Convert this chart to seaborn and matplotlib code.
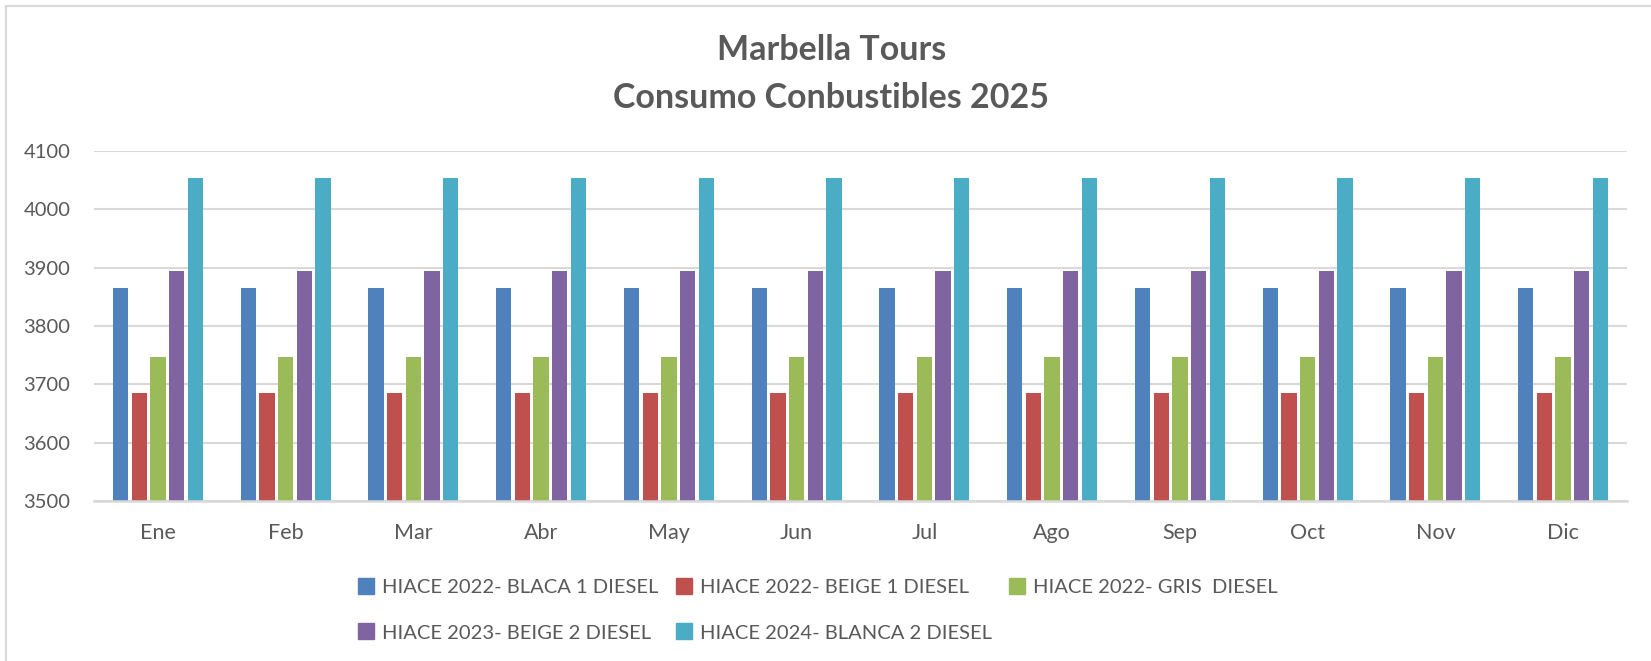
import matplotlib
matplotlib.use("Agg")
import matplotlib.pyplot as plt
import seaborn as sns
import pandas as pd
from matplotlib.lines import Line2D

months = ["Ene", "Feb", "Mar", "Abr", "May", "Jun", "Jul", "Ago", "Sep", "Oct", "Nov", "Dic"]
series_names = [
    "HIACE 2022- BLACA 1 DIESEL",
    "HIACE 2022- BEIGE 1 DIESEL",
    "HIACE 2022- GRIS  DIESEL",
    "HIACE 2023- BEIGE 2 DIESEL",
    "HIACE 2024- BLANCA 2 DIESEL",
]
blaca1 = [3866, 3866, 3866, 3866, 3866, 3866, 3866, 3866, 3866, 3866, 3866, 3866]
beige1 = [3685, 3685, 3685, 3685, 3685, 3685, 3685, 3685, 3685, 3685, 3685, 3685]
gris = [3747, 3747, 3747, 3747, 3747, 3747, 3747, 3747, 3747, 3747, 3747, 3747]
beige2 = [3894, 3894, 3894, 3894, 3894, 3894, 3894, 3894, 3894, 3894, 3894, 3894]
blanca2 = [4053, 4053, 4053, 4053, 4053, 4053, 4053, 4053, 4053, 4053, 4053, 4053]
colors = ["#4F81BD", "#C0504D", "#9BBB59", "#8064A2", "#4BACC6"]
yticks = [3500, 3600, 3700, 3800, 3900, 4000, 4100]
title_lines = ["Marbella Tours", "Consumo Conbustibles 2025"]

rows = []
for name, vals in zip(series_names, [blaca1, beige1, gris, beige2, blanca2]):
    for m, v in zip(months, vals):
        rows.append({"Mes": m, "Serie": name, "Valor": v})
df = pd.DataFrame(rows)

sns.set_style("white")
plt.rcParams["font.family"] = ["Lato", "DejaVu Sans"]
txt = "#595959"

W, H = 1651, 661
fig = plt.figure(figsize=(W / 100, H / 100), dpi=100)
ax = fig.add_axes([94 / W, 1 - 501 / H, (1627 - 94) / W, (501 - 151) / H])

sns.barplot(data=df, x="Mes", y="Valor", hue="Serie", order=months,
            hue_order=series_names, palette=colors, width=0.73,
            ax=ax, legend=False, saturation=1)

for p in ax.patches:
    w = p.get_width()
    x = p.get_x()
    nw = w * 0.82
    p.set_x(x + (w - nw) / 2)
    p.set_width(nw)
    p.set_linewidth(0)

ax.set_ylim(3500, 4100)
ax.set_xlim(-0.5, len(months) - 0.5)
ax.set_yticks(yticks)
ax.set_yticklabels([str(t) for t in yticks])
ax.grid(axis="y", color="#D9D9D9", linewidth=1.5)
ax.set_axisbelow(True)
for s in ["top", "right", "left"]:
    ax.spines[s].set_visible(False)
ax.spines["bottom"].set_color("#D9D9D9")
ax.spines["bottom"].set_linewidth(1.8)
ax.tick_params(axis="both", length=0, colors=txt)
ax.tick_params(axis="y", pad=17, labelsize=14.5)
ax.tick_params(axis="x", pad=16, labelsize=15.5)
ax.set_xlabel("")
ax.set_ylabel("")

fig.text(0.5035, 1 - 50 / H, title_lines[0], ha="center", va="center",
         fontsize=24.5, fontweight="bold", color=txt)
fig.text(0.5035, 1 - 98 / H, title_lines[1], ha="center", va="center",
         fontsize=24.5, fontweight="bold", color=txt)

handles = [Line2D([0], [0], marker="s", linestyle="none", markersize=12,
                  markerfacecolor=c, markeredgecolor=c) for c in colors]
order = [0, 3, 1, 4, 2]
fig.legend([handles[i] for i in order], [series_names[i] for i in order],
           ncol=3, loc="upper left", bbox_to_anchor=(338 / W, 1 - 561 / H),
           frameon=False, fontsize=14.5, labelcolor=txt, handletextpad=0.3,
           columnspacing=0.75, labelspacing=1.4, handlelength=1.0)

fig.add_artist(Line2D([6 / W, 6 / W], [0, 1 - 6 / H], color="#D9D9D9", linewidth=1.5))
fig.add_artist(Line2D([6 / W, 1], [1 - 6 / H, 1 - 6 / H], color="#D9D9D9", linewidth=1.5))

fig.savefig("out.png", dpi=100, facecolor="white")
